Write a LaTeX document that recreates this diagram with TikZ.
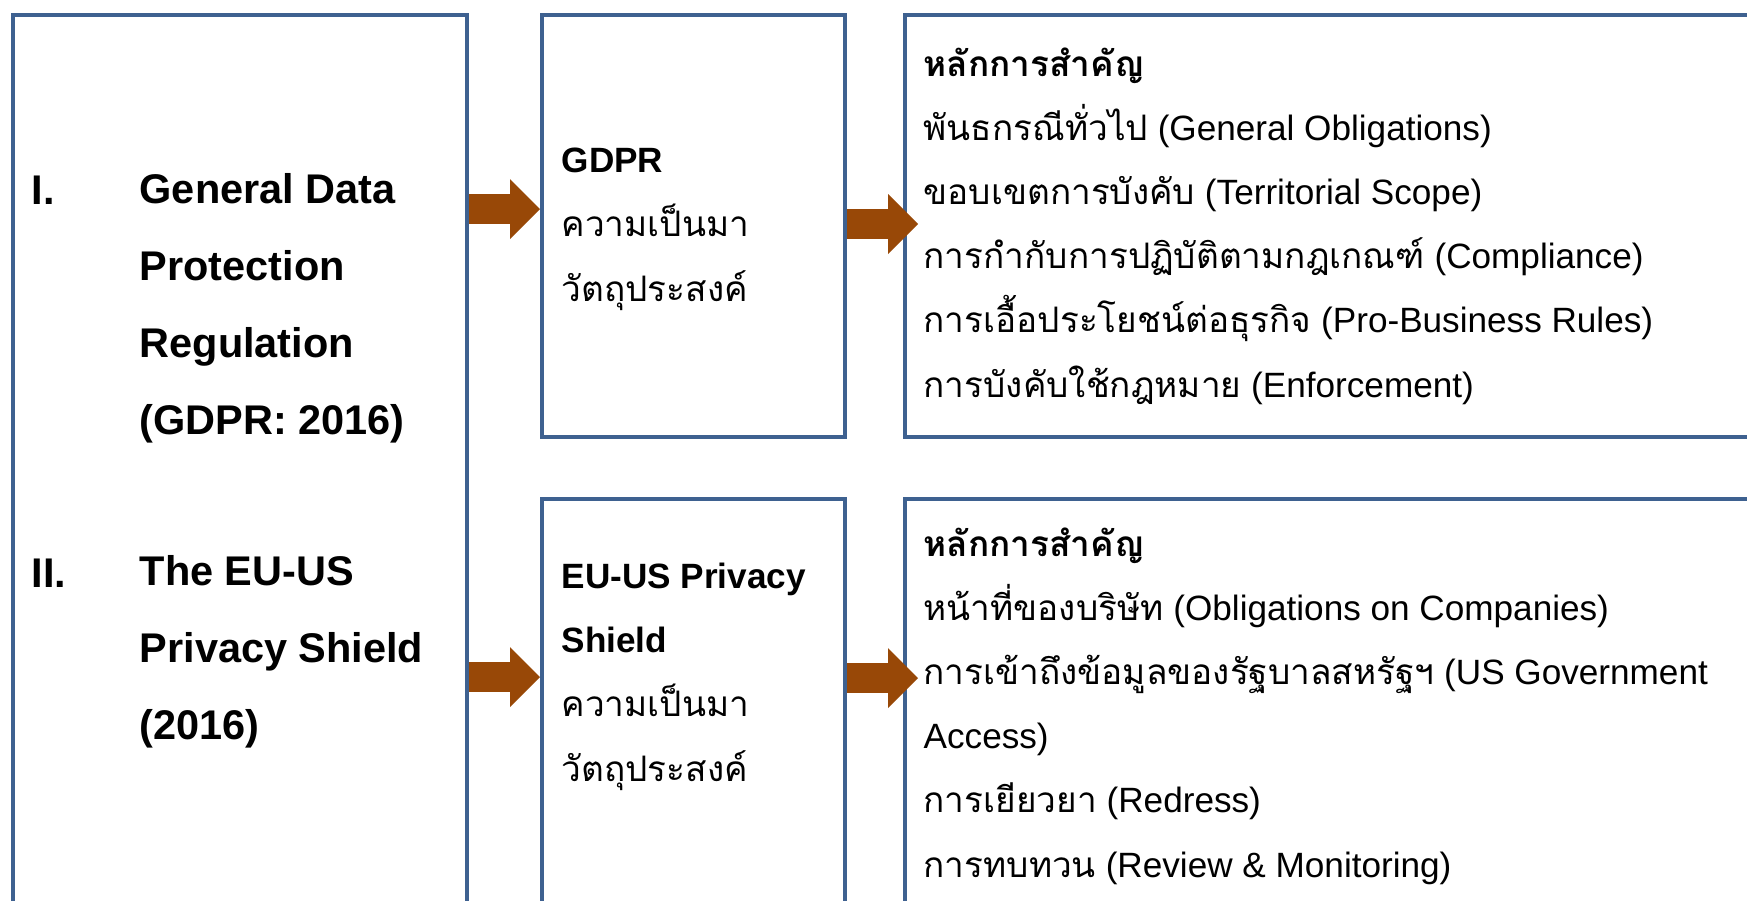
\documentclass[tikz,border=0pt]{standalone}
\usepackage{fontspec}
\setmainfont{Liberation Sans}
\newfontfamily\thaifont[Script=Thai]{Loma}
\usetikzlibrary{arrows.meta}

\definecolor{boxblue}{HTML}{3E6190}
\definecolor{arrowbrown}{HTML}{984807}

% Thai runs inside Latin lines
\newcommand\thaitext[1]{{\thaifont #1}}

% multi-line nodes sit on the baseline of their last line
\tikzset{
  panel/.style={draw=boxblue, line width=1.15pt, anchor=north west, inner sep=0pt},
  flow/.style={line width=0.30cm, draw=arrowbrown,
    -{Triangle[length=0.30cm,width=0.60cm,line width=0pt,fill=arrowbrown]}},
  heading/.style={anchor=base west, inner sep=0pt, align=left,
    font=\fontsize{11.8}{21.9}\selectfont\bfseries},
  bodytext/.style={anchor=base west, inner sep=0pt, align=left,
    font=\fontsize{10}{18.25}\selectfont},
}

\begin{document}
\begin{tikzpicture}
\useasboundingbox (0,0) rectangle (17.47,-9.00);
\clip (0,0) rectangle (17.47,-9.00);

% frames
\node[panel, minimum width=4.54cm, minimum height=10cm] (topic) at (0.11,-0.13) {};
\node[panel, minimum width=3.03cm, minimum height=4.22cm] (gdpr) at (5.40,-0.13) {};
\node[panel, minimum width=10cm, minimum height=4.22cm] (gdprkey) at (9.03,-0.13) {};
\node[panel, minimum width=3.03cm, minimum height=6cm] (shield) at (5.40,-4.97) {};
\node[panel, minimum width=10cm, minimum height=6cm] (shieldkey) at (9.03,-4.97) {};

% left column
\node[heading] (numI) at (0.31,-2.04) {I.};
\node[heading] (titleI) at (1.39,-4.34) {General Data\\Protection\\Regulation\\(GDPR: 2016)};
\node[heading] (numII) at (0.31,-5.87) {II.};
\node[heading] (titleII) at (1.39,-7.39) {The EU-US\\Privacy Shield\\(2016)};

% middle column
\node[bodytext] (gdprtext) at (5.61,-3.01)
  {\textbf{GDPR}\\\thaitext{ความเป็นมา}\\\thaitext{วัตถุประสงค์}};
\node[bodytext] (shieldtext) at (5.61,-7.81)
  {\textbf{EU-US Privacy}\\\textbf{Shield}\\\thaitext{ความเป็นมา}\\\thaitext{วัตถุประสงค์}};

% right column
\node[bodytext] (gdprlist) at (9.23,-3.97)
  {\thaitext{\bfseries หลักการสำคัญ}\\
   \thaitext{พันธกรณีทั่วไป} (General Obligations)\\
   \thaitext{ขอบเขตการบังคับ} (Territorial Scope)\\
   \thaitext{การกำกับการปฏิบัติตามกฎเกณฑ์} (Compliance)\\
   \thaitext{การเอื้อประโยชน์ต่อธุรกิจ} (Pro-Business Rules)\\
   \thaitext{การบังคับใช้กฎหมาย} (Enforcement)};
\node[bodytext] (shieldlist) at (9.23,-8.77)
  {\thaitext{\bfseries หลักการสำคัญ}\\
   \thaitext{หน้าที่ของบริษัท} (Obligations on Companies)\\
   \thaitext{การเข้าถึงข้อมูลของรัฐบาลสหรัฐฯ} (US Government\\
   Access)\\
   \thaitext{การเยียวยา} (Redress)\\
   \thaitext{การทบทวน} (Review \& Monitoring)};

% block arrows
\coordinate (tipA) at ([yshift=-1.96cm]gdpr.north west);
\coordinate (tipB) at ([shift={(0.15,-2.11)}]gdprkey.north west);
\coordinate (tipC) at ([yshift=-1.80cm]shield.north west);
\coordinate (tipD) at ([shift={(0.15,-1.81)}]shieldkey.north west);
\draw[flow] (topic.east |- tipA) -- (tipA);
\draw[flow] (gdpr.east |- tipB) -- (tipB);
\draw[flow] (topic.east |- tipC) -- (tipC);
\draw[flow] (shield.east |- tipD) -- (tipD);
\end{tikzpicture}
\end{document}
